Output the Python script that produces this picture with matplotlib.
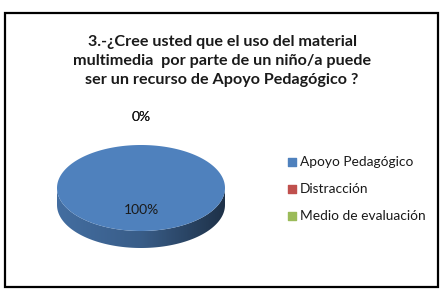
import numpy as np
import matplotlib.pyplot as plt
from matplotlib.patches import Polygon, Rectangle
from matplotlib.colors import LinearSegmentedColormap, to_rgb

# datos del grafico
categorias = ['Apoyo Pedagógico', 'Distracción', 'Medio de evaluación']
valores = [100, 0, 0]
colores = ['#4F81BD', '#C0504D', '#9BBB59']
titulo = '3.-¿Cree usted que el uso del material\nmultimedia  por parte de un niño/a puede\nser un recurso de Apoyo Pedagógico ?'

W, H = 445, 289
fig = plt.figure(figsize=(W / 100, H / 100), dpi=100)
ax = fig.add_axes([0, 0, 1, 1])
ax.set_xlim(0, W)
ax.set_ylim(H, 0)
ax.axis('off')

# marco
ax.add_patch(Rectangle((5, 13), 433, 274, fill=False, ec='black', lw=1.6))

ax.text(222, 61, titulo, ha='center', va='center', fontsize=11.6,
        fontweight='bold', family='Lato', linespacing=1.45, color='#1a1a1a')

# geometria del pastel 3D
cx, cy, a, b, prof = 141, 188, 84, 43, 17


def oscurecer(c, f):
    return tuple(np.array(to_rgb(c)) * f)


total = float(sum(valores))
inicio = 0.0
for val, col in zip(valores, colores):
    if val <= 0:
        continue
    ang = 360.0 * val / total
    # angulos en sentido horario desde arriba
    t = np.radians(np.linspace(inicio, inicio + ang, 200) - 90)
    # cara lateral frontal
    tf = t[np.sin(t) >= 0]
    if len(tf) > 1:
        xs = cx + a * np.cos(tf)
        ys = cy + b * np.sin(tf)
        pts = np.vstack([np.column_stack([xs, ys]),
                         np.column_stack([xs[::-1], ys[::-1] + prof])])
        lado = Polygon(pts, closed=True, fc='none', ec='none')
        ax.add_patch(lado)
        grad = np.linspace(0, 1, 256).reshape(1, -1)
        cm = LinearSegmentedColormap.from_list(
            'g', [oscurecer(col, 0.85), oscurecer(col, 0.72), oscurecer(col, 0.38)])
        im = ax.imshow(grad, cmap=cm, extent=[cx - a, cx + a, cy + b + prof, cy],
                       aspect='auto', zorder=1)
        im.set_clip_path(lado)
    xs = cx + a * np.cos(t)
    ys = cy + b * np.sin(t)
    if ang < 360:
        xs = np.append(xs, cx)
        ys = np.append(ys, cy)
    ax.add_patch(Polygon(np.column_stack([xs, ys]), closed=True, fc=col,
                         ec='none', zorder=2))
    inicio += ang

# etiquetas de porcentaje
inicio = 0.0
for val in valores:
    ang = 360.0 * val / total
    medio = np.radians(inicio + ang / 2 - 90)
    r = 0.5 if val > 0 else 1.65
    ax.text(cx + r * a * np.cos(medio), cy + r * b * np.sin(medio),
            f'{val:.0f}%', ha='center', va='center', fontsize=10,
            family='Lato', color='#1a1a1a', zorder=3)
    inicio += ang

# leyenda
for i, (cat, col) in enumerate(zip(categorias, colores)):
    y = 162 + 27 * i
    ax.scatter([292], [y], marker='s', s=28, color=col, zorder=3)
    ax.text(300, y, cat, ha='left', va='center', fontsize=9.9, family='Lato',
            color='#1a1a1a')

fig.savefig('out.png', dpi=100)
